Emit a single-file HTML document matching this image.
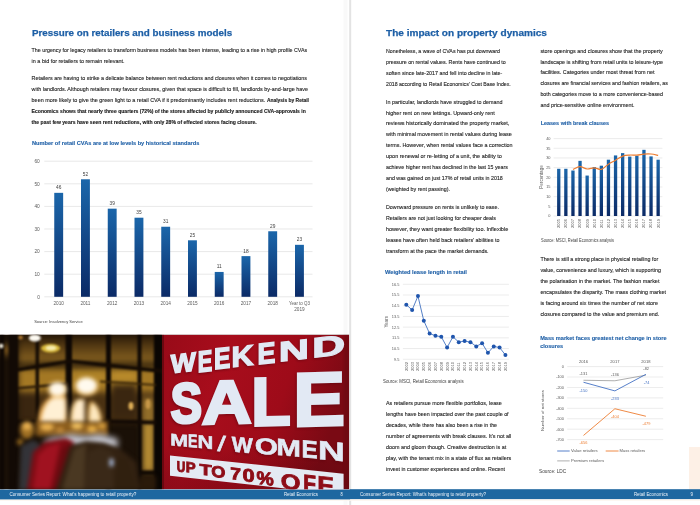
<!DOCTYPE html>
<html><head><meta charset="utf-8"><title>Consumer Series Report</title>
<style>
html,body{margin:0;padding:0;background:#fff;}
body{width:700px;height:505px;overflow:hidden;}
svg{display:block;}
text{font-family:"Liberation Sans",Arial,sans-serif;}
</style></head><body>
<svg width="700" height="505" viewBox="0 0 700 505">
<rect width="700" height="505" fill="#fff"/>
<rect x="343.5" y="0" width="4" height="505" fill="#f9f9f9"/>
<rect x="349.2" y="0" width="2" height="505" fill="#e3e3e3"/>
<rect x="689" y="447" width="11" height="42.5" fill="#fdf0e6"/>
<rect x="0" y="499.2" width="700" height="1.6" fill="#fdf6ee"/>
<defs><linearGradient id="bg1" x1="0" y1="0" x2="0" y2="1" gradientUnits="objectBoundingBox"><stop offset="0" stop-color="#1b66aa"/><stop offset="1" stop-color="#0b2a66"/></linearGradient><linearGradient id="bg3" x1="0" y1="0" x2="0" y2="1"><stop offset="0" stop-color="#1b66aa"/><stop offset="1" stop-color="#0b2a66"/></linearGradient></defs>
<line x1="44.3" y1="296.80" x2="312.5" y2="296.80" stroke="#d9d9d9" stroke-width="0.6"/>
<line x1="44.3" y1="274.20" x2="312.5" y2="274.20" stroke="#d9d9d9" stroke-width="0.6"/>
<line x1="44.3" y1="251.60" x2="312.5" y2="251.60" stroke="#d9d9d9" stroke-width="0.6"/>
<line x1="44.3" y1="229.00" x2="312.5" y2="229.00" stroke="#d9d9d9" stroke-width="0.6"/>
<line x1="44.3" y1="206.40" x2="312.5" y2="206.40" stroke="#d9d9d9" stroke-width="0.6"/>
<line x1="44.3" y1="183.80" x2="312.5" y2="183.80" stroke="#d9d9d9" stroke-width="0.6"/>
<line x1="44.3" y1="161.20" x2="312.5" y2="161.20" stroke="#d9d9d9" stroke-width="0.6"/>
<rect x="54.25" y="192.84" width="8.9" height="103.96" fill="url(#bg3)"/>
<rect x="81.00" y="179.28" width="8.9" height="117.52" fill="url(#bg3)"/>
<rect x="107.75" y="208.66" width="8.9" height="88.14" fill="url(#bg3)"/>
<rect x="134.50" y="217.70" width="8.9" height="79.10" fill="url(#bg3)"/>
<rect x="161.25" y="226.74" width="8.9" height="70.06" fill="url(#bg3)"/>
<rect x="188.00" y="240.30" width="8.9" height="56.50" fill="url(#bg3)"/>
<rect x="214.75" y="271.94" width="8.9" height="24.86" fill="url(#bg3)"/>
<rect x="241.50" y="256.12" width="8.9" height="40.68" fill="url(#bg3)"/>
<rect x="268.25" y="231.26" width="8.9" height="65.54" fill="url(#bg3)"/>
<rect x="295.00" y="244.82" width="8.9" height="51.98" fill="url(#bg3)"/>
<line x1="402.9" y1="284.30" x2="508.9" y2="284.30" stroke="#d9d9d9" stroke-width="0.5"/>
<line x1="402.9" y1="295.01" x2="508.9" y2="295.01" stroke="#d9d9d9" stroke-width="0.5"/>
<line x1="402.9" y1="305.72" x2="508.9" y2="305.72" stroke="#d9d9d9" stroke-width="0.5"/>
<line x1="402.9" y1="316.43" x2="508.9" y2="316.43" stroke="#d9d9d9" stroke-width="0.5"/>
<line x1="402.9" y1="327.14" x2="508.9" y2="327.14" stroke="#d9d9d9" stroke-width="0.5"/>
<line x1="402.9" y1="337.85" x2="508.9" y2="337.85" stroke="#d9d9d9" stroke-width="0.5"/>
<line x1="402.9" y1="348.56" x2="508.9" y2="348.56" stroke="#d9d9d9" stroke-width="0.5"/>
<line x1="402.9" y1="359.27" x2="508.9" y2="359.27" stroke="#d9d9d9" stroke-width="0.5"/>
<line x1="553.6" y1="216.00" x2="662.4" y2="216.00" stroke="#d9d9d9" stroke-width="0.5"/>
<line x1="553.6" y1="206.32" x2="662.4" y2="206.32" stroke="#d9d9d9" stroke-width="0.5"/>
<line x1="553.6" y1="196.65" x2="662.4" y2="196.65" stroke="#d9d9d9" stroke-width="0.5"/>
<line x1="553.6" y1="186.97" x2="662.4" y2="186.97" stroke="#d9d9d9" stroke-width="0.5"/>
<line x1="553.6" y1="177.30" x2="662.4" y2="177.30" stroke="#d9d9d9" stroke-width="0.5"/>
<line x1="553.6" y1="167.62" x2="662.4" y2="167.62" stroke="#d9d9d9" stroke-width="0.5"/>
<line x1="553.6" y1="157.95" x2="662.4" y2="157.95" stroke="#d9d9d9" stroke-width="0.5"/>
<line x1="553.6" y1="148.27" x2="662.4" y2="148.27" stroke="#d9d9d9" stroke-width="0.5"/>
<line x1="553.6" y1="138.60" x2="662.4" y2="138.60" stroke="#d9d9d9" stroke-width="0.5"/>
<rect x="557.10" y="168.79" width="3.3" height="47.21" fill="url(#bg3)"/>
<rect x="564.20" y="168.79" width="3.3" height="47.21" fill="url(#bg3)"/>
<rect x="571.30" y="170.53" width="3.3" height="45.47" fill="url(#bg3)"/>
<rect x="578.40" y="160.85" width="3.3" height="55.15" fill="url(#bg3)"/>
<rect x="585.50" y="175.56" width="3.3" height="40.44" fill="url(#bg3)"/>
<rect x="592.60" y="167.04" width="3.3" height="48.96" fill="url(#bg3)"/>
<rect x="599.70" y="165.69" width="3.3" height="50.31" fill="url(#bg3)"/>
<rect x="606.80" y="159.69" width="3.3" height="56.31" fill="url(#bg3)"/>
<rect x="613.90" y="155.43" width="3.3" height="60.57" fill="url(#bg3)"/>
<rect x="621.00" y="153.11" width="3.3" height="62.89" fill="url(#bg3)"/>
<rect x="628.10" y="156.60" width="3.3" height="59.40" fill="url(#bg3)"/>
<rect x="635.20" y="155.82" width="3.3" height="60.18" fill="url(#bg3)"/>
<rect x="642.30" y="149.82" width="3.3" height="66.18" fill="url(#bg3)"/>
<rect x="649.40" y="156.40" width="3.3" height="59.60" fill="url(#bg3)"/>
<rect x="656.50" y="159.69" width="3.3" height="56.31" fill="url(#bg3)"/>
<line x1="567.2" y1="366.60" x2="663.2" y2="366.60" stroke="#d9d9d9" stroke-width="0.5"/>
<line x1="567.2" y1="377.03" x2="663.2" y2="377.03" stroke="#d9d9d9" stroke-width="0.5"/>
<line x1="567.2" y1="387.46" x2="663.2" y2="387.46" stroke="#d9d9d9" stroke-width="0.5"/>
<line x1="567.2" y1="397.89" x2="663.2" y2="397.89" stroke="#d9d9d9" stroke-width="0.5"/>
<line x1="567.2" y1="408.32" x2="663.2" y2="408.32" stroke="#d9d9d9" stroke-width="0.5"/>
<line x1="567.2" y1="418.75" x2="663.2" y2="418.75" stroke="#d9d9d9" stroke-width="0.5"/>
<line x1="567.2" y1="429.18" x2="663.2" y2="429.18" stroke="#d9d9d9" stroke-width="0.5"/>
<line x1="567.2" y1="439.61" x2="663.2" y2="439.61" stroke="#d9d9d9" stroke-width="0.5"/>
<rect x="0" y="489.5" width="350" height="9.9" fill="#1e67a0"/>
<rect x="350" y="489.2" width="350" height="9.9" fill="#1e67a0"/>
<defs>
<filter id="blur1" x="-20%" y="-20%" width="140%" height="140%" color-interpolation-filters="sRGB"><feGaussianBlur stdDeviation="0.8"/></filter>
<filter id="blur2" x="-30%" y="-30%" width="160%" height="160%" color-interpolation-filters="sRGB"><feGaussianBlur stdDeviation="1.9"/></filter>
<filter id="blur3" x="-30%" y="-30%" width="160%" height="160%" color-interpolation-filters="sRGB"><feGaussianBlur stdDeviation="3.0"/></filter>
<clipPath id="clipL"><rect x="0" y="334.7" width="162" height="154.6"/></clipPath>
<clipPath id="clipS"><rect x="162" y="334.7" width="187.2" height="154.6"/></clipPath>
<linearGradient id="redg" x1="0" y1="0" x2="1" y2="0.3">
 <stop offset="0" stop-color="#980a18"/><stop offset="0.35" stop-color="#a80d1c"/><stop offset="0.7" stop-color="#9e0b19"/><stop offset="1" stop-color="#7a0a14"/>
</linearGradient>
<linearGradient id="paneU" x1="0" y1="0" x2="0" y2="1">
 <stop offset="0" stop-color="#2a1a08"/><stop offset="0.45" stop-color="#5a3e14"/><stop offset="1" stop-color="#8c6622"/>
</linearGradient>
<linearGradient id="redv" x1="0" y1="0" x2="0" y2="1">
 <stop offset="0" stop-color="#000" stop-opacity="0"/><stop offset="0.7" stop-color="#000" stop-opacity="0"/><stop offset="1" stop-color="#300008" stop-opacity="0.2"/>
</linearGradient>
</defs>
<rect x="0" y="334.2" width="349.2" height="0.7" fill="#c8c0c0"/>
<g clip-path="url(#clipL)">
 <rect x="0" y="334.7" width="162" height="154.6" fill="#1a1007"/>
 <g filter="url(#blur3)">
  <rect x="18" y="335" width="140" height="28" fill="url(#paneU)"/>
  <rect x="18" y="368" width="140" height="28" fill="#a47824"/>
  <rect x="111" y="370" width="26" height="22" fill="#b88a2a"/>
  <rect x="74" y="370" width="32" height="14" fill="#b08428"/>
  <rect x="18" y="392" width="140" height="30" fill="#4a3112"/>
  <rect x="111" y="384" width="26" height="34" fill="#3a2610"/>
  <rect x="142" y="398" width="13" height="76" fill="#94702a"/>
  <rect x="143" y="424" width="11" height="46" fill="#b88e34"/>
  <rect x="18" y="392" width="20" height="30" fill="#3a2610"/>
  <ellipse cx="6" cy="350" rx="4" ry="6" fill="#8a6020"/>
 </g>
 <g filter="url(#blur1)">
  <rect x="0" y="334" width="4" height="156" fill="#0e0804"/>
  <rect x="9" y="334" width="9" height="156" fill="#120a05"/>
  <rect x="35.5" y="334" width="3.5" height="88" fill="#140c05"/>
  <rect x="65.5" y="334" width="6.5" height="100" fill="#0e0804"/>
  <rect x="106" y="334" width="5" height="156" fill="#0e0804"/>
  <rect x="137.5" y="334" width="4" height="156" fill="#0e0804"/>
  <rect x="154" y="334" width="8.5" height="156" fill="#0a0603"/>
  <polygon points="18,367.5 70,359.5 162,369 162,373 70,363 18,371.5" fill="#140b04"/>
  <polygon points="18,387 68,382.5 68,385 18,389.5" fill="#2a1a08"/>
  <polygon points="100,380.5 156,384 156,386 100,382.5" fill="#3a2608"/>
  <polygon points="18,420 104,419.5 156,420.5 156,424.5 104,423.5 18,423.5" fill="#140b05"/>
  <rect x="141" y="470.5" width="14" height="5" fill="#120a04"/>
  <ellipse cx="131" cy="406" rx="2.5" ry="4" fill="#e0b058"/>
  <ellipse cx="148" cy="404" rx="2.5" ry="5" fill="#c89848"/>
 </g>
 <g filter="url(#blur1)">
  <ellipse cx="34.8" cy="338" rx="6" ry="3.6" fill="#fdfaf2"/>
  <ellipse cx="1.2" cy="346" rx="2.2" ry="2.2" fill="#f4efe0"/>
  <ellipse cx="20.6" cy="337.5" rx="2.3" ry="2" fill="#b07830"/>
  <ellipse cx="50.6" cy="348.2" rx="9.5" ry="4.2" fill="#d8b838"/>
  <ellipse cx="51" cy="348" rx="5.5" ry="2.4" fill="#f6ecb0"/>
 </g>
 <g filter="url(#blur2)">
  <rect x="36" y="421" width="72" height="15" fill="#8a5c1c"/>
  <ellipse cx="47" cy="427" rx="7" ry="4" fill="#e8b050"/>
  <ellipse cx="60" cy="430" rx="4" ry="3" fill="#c08838"/>
  <ellipse cx="77" cy="426" rx="6" ry="3.5" fill="#f0c060"/>
  <ellipse cx="92" cy="429" rx="5" ry="3.5" fill="#e8b048"/>
  <ellipse cx="102" cy="426" rx="4" ry="3" fill="#d8a040"/>
  <ellipse cx="27" cy="430" rx="7" ry="9" fill="#a07024"/>
  <ellipse cx="27" cy="426" rx="5" ry="4" fill="#e8b050"/>
  <ellipse cx="20" cy="442" rx="3" ry="3" fill="#a07020"/>
 </g>
 <g filter="url(#blur2)">
  <path d="M38,422 C38,410 44,400 52,396 L66,396 C67,404 67,414 67,422 Z" fill="#e8a444"/>
  <path d="M41,421 C42,410 47,401 53,398 L65,398 C66,406 66,413 65,421 Z" fill="#fff0d4"/>
  <ellipse cx="57.5" cy="389.5" rx="9.5" ry="8" fill="#eec47c"/>
  <ellipse cx="57.5" cy="389" rx="8" ry="6.6" fill="#fff8ea"/>
  <ellipse cx="86.5" cy="386.5" rx="11.5" ry="9.5" fill="#eebe6c"/>
  <ellipse cx="86.5" cy="385.5" rx="10" ry="7.8" fill="#fffaee"/>
  <path d="M70,422 C70,410 73,401 78,399 L86,399 C88,408 89,416 88,422 Z" fill="#f0c068"/>
  <path d="M72,421 C72,410 75,402 78,400 L86,400 C87,408 87,414 87,421 Z" fill="#ffeccc"/>
  <path d="M88,422 C88,412 88,404 91,401 C97,403 102,412 102,422 Z" fill="#eeb85c"/>
  <path d="M89.5,421 C89.5,411 90.5,405 92.5,403 C97,406 100,413 100,421 Z" fill="#fde8c0"/>
  <rect x="84.5" y="397" width="3.5" height="25" fill="#4a3010"/>
 </g>
 <g filter="url(#blur3)">
  <path d="M60,437 L70,434 L85,436 L100,434 L118,439 L117,449 L100,446 L80,447 L62,446 Z" fill="#c8c8d0"/>
  <path d="M44,440 L56,436 L64,438 L60,445 L46,446 Z" fill="#b0a8b0"/>
 </g>
 <g filter="url(#blur2)">
  <path d="M21,446 L33,440 L40,444 L36,490 L19,490 Z" fill="#333338"/>
  <path d="M27,490 L33,452 L45,442 L66,438 L74,442 L56,490 Z" fill="#7e0c14"/>
  <path d="M33,490 L38,455 L48,446 L60,443 L50,490 Z" fill="#a01220"/>
  <path d="M52,490 L62,448 L72,442 L60,490 Z" fill="#6a0a10"/>
  <path d="M56,490 L70,446 L86,441 L104,443 L120,449 L136,462 L140,490 Z" fill="#332212"/>
  <path d="M62,490 L74,449 L86,444 L84,490 Z" fill="#4a3822"/>
  <path d="M84,490 L88,452 L100,447 L112,452 L114,490 Z" fill="#3a2918"/>
  <path d="M114,490 L118,456 L128,460 L138,490 Z" fill="#30200f"/>
  <rect x="109.5" y="458.5" width="4" height="8" rx="1.5" fill="#b0c4e8"/>
  <rect x="140" y="476" width="16" height="14" fill="#2a1a0a"/>
 </g>
</g>
<g clip-path="url(#clipS)">
 <rect x="162" y="334.7" width="187.2" height="154.6" fill="url(#redg)"/>
 <rect x="162" y="334.7" width="187.2" height="154.6" fill="url(#redv)"/>
 <rect x="344" y="334.7" width="5.2" height="154.6" fill="#6a0a12" opacity="0.6" filter="url(#blur1)"/>
 <rect x="162" y="334.7" width="2" height="154.6" fill="#6a0810"/>
<g opacity="0.55" filter="url(#blur1)"><text x="0" y="0" font-size="100" font-weight="bold" fill="#5a0610" stroke="#5a0610" stroke-width="5.3" stroke-linejoin="miter" transform="translate(182.40 364.00) skewY(-6.50) scale(0.2653 0.2617) translate(-47.19 34.40)">W</text><text x="0" y="0" font-size="100" font-weight="bold" fill="#5a0610" stroke="#5a0610" stroke-width="5.5" stroke-linejoin="miter" transform="translate(204.50 362.30) skewY(-6.50) scale(0.2175 0.2971) translate(-34.74 34.40)">E</text><text x="0" y="0" font-size="100" font-weight="bold" fill="#5a0610" stroke="#5a0610" stroke-width="5.2" stroke-linejoin="miter" transform="translate(221.70 359.40) skewY(-6.50) scale(0.2447 0.2958) translate(-34.74 34.40)">E</text><text x="0" y="0" font-size="100" font-weight="bold" fill="#5a0610" stroke="#5a0610" stroke-width="4.7" stroke-linejoin="miter" transform="translate(242.65 357.30) skewY(-6.50) scale(0.3044 0.2883) translate(-38.99 34.40)">K</text><text x="0" y="0" font-size="100" font-weight="bold" fill="#5a0610" stroke="#5a0610" stroke-width="5.0" stroke-linejoin="miter" transform="translate(266.00 354.55) skewY(-6.50) scale(0.2685 0.2960) translate(-34.74 34.40)">E</text><text x="0" y="0" font-size="100" font-weight="bold" fill="#5a0610" stroke="#5a0610" stroke-width="4.1" stroke-linejoin="miter" transform="translate(293.05 351.50) skewY(-6.50) scale(0.4183 0.2799) translate(-36.08 34.40)">N</text><text x="0" y="0" font-size="100" font-weight="bold" fill="#5a0610" stroke="#5a0610" stroke-width="3.9" stroke-linejoin="miter" transform="translate(328.50 347.35) skewY(-6.50) scale(0.4599 0.2790) translate(-37.35 34.40)">D</text><text x="0" y="0" font-size="100" font-weight="bold" fill="#5a0610" stroke="#5a0610" stroke-width="5.9" stroke-linejoin="miter" transform="translate(185.25 404.40) skewY(-1.50) scale(0.4666 0.5581) translate(-32.84 34.42)">S</text><text x="0" y="0" font-size="100" font-weight="bold" fill="#5a0610" stroke="#5a0610" stroke-width="4.6" stroke-linejoin="miter" transform="translate(225.90 403.60) skewY(-1.50) scale(0.6889 0.6116) translate(-36.04 34.40)">A</text><text x="0" y="0" font-size="100" font-weight="bold" fill="#5a0610" stroke="#5a0610" stroke-width="4.6" stroke-linejoin="miter" transform="translate(271.35 402.90) skewY(-1.50) scale(0.6389 0.6770) translate(-32.35 34.40)">L</text><text x="0" y="0" font-size="100" font-weight="bold" fill="#5a0610" stroke="#5a0610" stroke-width="3.9" stroke-linejoin="miter" transform="translate(319.50 400.65) skewY(-1.50) scale(0.7764 0.7547) translate(-34.74 34.40)">E</text><text x="0" y="0" font-size="100" font-weight="bold" fill="#5a0610" stroke="#5a0610" stroke-width="3.2" stroke-linejoin="miter" transform="translate(178.45 441.55) skewY(5.00) scale(0.2148 0.1685) translate(-41.65 34.40)">M</text><text x="0" y="0" font-size="100" font-weight="bold" fill="#5a0610" stroke="#5a0610" stroke-width="3.7" stroke-linejoin="miter" transform="translate(192.05 442.10) skewY(5.00) scale(0.1421 0.1828) translate(-34.74 34.40)">E</text><text x="0" y="0" font-size="100" font-weight="bold" fill="#5a0610" stroke="#5a0610" stroke-width="3.0" stroke-linejoin="miter" transform="translate(204.55 443.35) skewY(5.00) scale(0.2185 0.1827) translate(-36.08 34.40)">N</text><text x="0" y="0" font-size="100" font-weight="normal" fill="#5a0610" stroke="#5a0610" stroke-width="2.3" stroke-linejoin="miter" transform="translate(220.90 444.70) skewY(5.00) scale(0.3122 0.2135) translate(-13.89 35.74)">/</text><text x="0" y="0" font-size="100" font-weight="bold" fill="#5a0610" stroke="#5a0610" stroke-width="2.8" stroke-linejoin="miter" transform="translate(241.35 446.20) skewY(5.00) scale(0.2218 0.2141) translate(-47.19 34.40)">W</text><text x="0" y="0" font-size="100" font-weight="bold" fill="#5a0610" stroke="#5a0610" stroke-width="2.3" stroke-linejoin="miter" transform="translate(265.60 447.60) skewY(5.00) scale(0.2981 0.2288) translate(-38.84 34.42)">O</text><text x="0" y="0" font-size="100" font-weight="bold" fill="#5a0610" stroke="#5a0610" stroke-width="2.3" stroke-linejoin="miter" transform="translate(287.80 449.05) skewY(5.00) scale(0.2964 0.2339) translate(-41.65 34.40)">M</text><text x="0" y="0" font-size="100" font-weight="bold" fill="#5a0610" stroke="#5a0610" stroke-width="2.5" stroke-linejoin="miter" transform="translate(309.20 450.50) skewY(5.00) scale(0.2424 0.2436) translate(-34.74 34.40)">E</text><text x="0" y="0" font-size="100" font-weight="bold" fill="#5a0610" stroke="#5a0610" stroke-width="1.9" stroke-linejoin="miter" transform="translate(330.65 452.25) skewY(5.00) scale(0.3773 0.2645) translate(-36.08 34.40)">N</text></g>
<g>
<text x="0" y="0" font-size="100" font-weight="bold" fill="#e2e9f4" stroke="#e2e9f4" stroke-width="5.3" stroke-linejoin="miter" transform="translate(183.20 362.80) skewY(-6.50) scale(0.2653 0.2617) translate(-47.19 34.40)">W</text>
<text x="0" y="0" font-size="100" font-weight="bold" fill="#e2e9f4" stroke="#e2e9f4" stroke-width="5.5" stroke-linejoin="miter" transform="translate(205.30 361.10) skewY(-6.50) scale(0.2175 0.2971) translate(-34.74 34.40)">E</text>
<text x="0" y="0" font-size="100" font-weight="bold" fill="#e2e9f4" stroke="#e2e9f4" stroke-width="5.2" stroke-linejoin="miter" transform="translate(222.50 358.20) skewY(-6.50) scale(0.2447 0.2958) translate(-34.74 34.40)">E</text>
<text x="0" y="0" font-size="100" font-weight="bold" fill="#e2e9f4" stroke="#e2e9f4" stroke-width="4.7" stroke-linejoin="miter" transform="translate(243.45 356.10) skewY(-6.50) scale(0.3044 0.2883) translate(-38.99 34.40)">K</text>
<text x="0" y="0" font-size="100" font-weight="bold" fill="#e2e9f4" stroke="#e2e9f4" stroke-width="5.0" stroke-linejoin="miter" transform="translate(266.80 353.35) skewY(-6.50) scale(0.2685 0.2960) translate(-34.74 34.40)">E</text>
<text x="0" y="0" font-size="100" font-weight="bold" fill="#e2e9f4" stroke="#e2e9f4" stroke-width="4.1" stroke-linejoin="miter" transform="translate(293.85 350.30) skewY(-6.50) scale(0.4183 0.2799) translate(-36.08 34.40)">N</text>
<text x="0" y="0" font-size="100" font-weight="bold" fill="#e2e9f4" stroke="#e2e9f4" stroke-width="3.9" stroke-linejoin="miter" transform="translate(329.30 346.15) skewY(-6.50) scale(0.4599 0.2790) translate(-37.35 34.40)">D</text>
<text x="0" y="0" font-size="100" font-weight="bold" fill="#e2e9f4" stroke="#e2e9f4" stroke-width="5.9" stroke-linejoin="miter" transform="translate(186.05 403.20) skewY(-1.50) scale(0.4666 0.5581) translate(-32.84 34.42)">S</text>
<text x="0" y="0" font-size="100" font-weight="bold" fill="#e2e9f4" stroke="#e2e9f4" stroke-width="4.6" stroke-linejoin="miter" transform="translate(226.70 402.40) skewY(-1.50) scale(0.6889 0.6116) translate(-36.04 34.40)">A</text>
<text x="0" y="0" font-size="100" font-weight="bold" fill="#e2e9f4" stroke="#e2e9f4" stroke-width="4.6" stroke-linejoin="miter" transform="translate(272.15 401.70) skewY(-1.50) scale(0.6389 0.6770) translate(-32.35 34.40)">L</text>
<text x="0" y="0" font-size="100" font-weight="bold" fill="#e2e9f4" stroke="#e2e9f4" stroke-width="3.9" stroke-linejoin="miter" transform="translate(320.30 399.45) skewY(-1.50) scale(0.7764 0.7547) translate(-34.74 34.40)">E</text>
<text x="0" y="0" font-size="100" font-weight="bold" fill="#e2e9f4" stroke="#e2e9f4" stroke-width="3.2" stroke-linejoin="miter" transform="translate(179.25 440.35) skewY(5.00) scale(0.2148 0.1685) translate(-41.65 34.40)">M</text>
<text x="0" y="0" font-size="100" font-weight="bold" fill="#e2e9f4" stroke="#e2e9f4" stroke-width="3.7" stroke-linejoin="miter" transform="translate(192.85 440.90) skewY(5.00) scale(0.1421 0.1828) translate(-34.74 34.40)">E</text>
<text x="0" y="0" font-size="100" font-weight="bold" fill="#e2e9f4" stroke="#e2e9f4" stroke-width="3.0" stroke-linejoin="miter" transform="translate(205.35 442.15) skewY(5.00) scale(0.2185 0.1827) translate(-36.08 34.40)">N</text>
<text x="0" y="0" font-size="100" font-weight="normal" fill="#e2e9f4" stroke="#e2e9f4" stroke-width="2.3" stroke-linejoin="miter" transform="translate(221.70 443.50) skewY(5.00) scale(0.3122 0.2135) translate(-13.89 35.74)">/</text>
<text x="0" y="0" font-size="100" font-weight="bold" fill="#e2e9f4" stroke="#e2e9f4" stroke-width="2.8" stroke-linejoin="miter" transform="translate(242.15 445.00) skewY(5.00) scale(0.2218 0.2141) translate(-47.19 34.40)">W</text>
<text x="0" y="0" font-size="100" font-weight="bold" fill="#e2e9f4" stroke="#e2e9f4" stroke-width="2.3" stroke-linejoin="miter" transform="translate(266.40 446.40) skewY(5.00) scale(0.2981 0.2288) translate(-38.84 34.42)">O</text>
<text x="0" y="0" font-size="100" font-weight="bold" fill="#e2e9f4" stroke="#e2e9f4" stroke-width="2.3" stroke-linejoin="miter" transform="translate(288.60 447.85) skewY(5.00) scale(0.2964 0.2339) translate(-41.65 34.40)">M</text>
<text x="0" y="0" font-size="100" font-weight="bold" fill="#e2e9f4" stroke="#e2e9f4" stroke-width="2.5" stroke-linejoin="miter" transform="translate(310.00 449.30) skewY(5.00) scale(0.2424 0.2436) translate(-34.74 34.40)">E</text>
<text x="0" y="0" font-size="100" font-weight="bold" fill="#e2e9f4" stroke="#e2e9f4" stroke-width="1.9" stroke-linejoin="miter" transform="translate(331.45 451.05) skewY(5.00) scale(0.3773 0.2645) translate(-36.08 34.40)">N</text>
</g>
<polygon points="170,455.4 343.6,473.8 343.6,495 170,475.7" fill="#e4eaf3"/>
<g>
<text x="0" y="0" font-size="100" font-weight="bold" fill="#8e0d17" stroke="#8e0d17" stroke-width="6.8" stroke-linejoin="miter" transform="translate(181.05 466.80) skewY(6.50) scale(0.1180 0.1475) translate(-36.06 33.91)">U</text>
<text x="0" y="0" font-size="100" font-weight="bold" fill="#8e0d17" stroke="#8e0d17" stroke-width="6.1" stroke-linejoin="miter" transform="translate(191.05 467.50) skewY(6.50) scale(0.1485 0.1488) translate(-34.99 34.40)">P</text>
<text x="0" y="0" font-size="100" font-weight="bold" fill="#8e0d17" stroke="#8e0d17" stroke-width="5.1" stroke-linejoin="miter" transform="translate(205.70 470.00) skewY(6.50) scale(0.1999 0.1534) translate(-30.57 34.40)">T</text>
<text x="0" y="0" font-size="100" font-weight="bold" fill="#8e0d17" stroke="#8e0d17" stroke-width="5.3" stroke-linejoin="miter" transform="translate(218.20 471.80) skewY(6.50) scale(0.1819 0.1583) translate(-38.84 34.42)">O</text>
<text x="0" y="0" font-size="100" font-weight="bold" fill="#8e0d17" stroke="#8e0d17" stroke-width="5.0" stroke-linejoin="miter" transform="translate(235.70 473.90) skewY(6.50) scale(0.1926 0.1689) translate(-27.76 34.40)">7</text>
<text x="0" y="0" font-size="100" font-weight="bold" fill="#8e0d17" stroke="#8e0d17" stroke-width="4.5" stroke-linejoin="miter" transform="translate(248.60 475.40) skewY(6.50) scale(0.2189 0.1819) translate(-27.73 34.42)">0</text>
<text x="0" y="0" font-size="100" font-weight="bold" fill="#8e0d17" stroke="#8e0d17" stroke-width="4.8" stroke-linejoin="miter" transform="translate(265.00 478.55) skewY(6.50) scale(0.1942 0.1829) translate(-44.38 34.40)">%</text>
<text x="0" y="0" font-size="100" font-weight="bold" fill="#8e0d17" stroke="#8e0d17" stroke-width="3.9" stroke-linejoin="miter" transform="translate(290.70 481.95) skewY(6.50) scale(0.2536 0.2140) translate(-38.84 34.42)">O</text>
<text x="0" y="0" font-size="100" font-weight="bold" fill="#8e0d17" stroke="#8e0d17" stroke-width="4.1" stroke-linejoin="miter" transform="translate(310.00 483.40) skewY(6.50) scale(0.2079 0.2318) translate(-32.06 34.40)">F</text>
<text x="0" y="0" font-size="100" font-weight="bold" fill="#8e0d17" stroke="#8e0d17" stroke-width="3.7" stroke-linejoin="miter" transform="translate(325.75 484.85) skewY(6.50) scale(0.2629 0.2301) translate(-32.06 34.40)">F</text>
</g>
</g>

<text x="32.00" y="35.90" font-size="9.6" fill="#1d5fa6" font-weight="bold" textLength="200.10" lengthAdjust="spacingAndGlyphs" stroke="#1d5fa6" stroke-width="0.25">Pressure on retailers and business models</text>
<text x="31.60" y="51.70" font-size="6.0" fill="#1e1e1e" textLength="275.60" lengthAdjust="spacingAndGlyphs" stroke="#1e1e1e" stroke-width="0.12">The urgency for legacy retailers to transform business models has been intense, leading to a rise in high profile CVAs</text>
<text x="31.60" y="62.60" font-size="6.0" fill="#1e1e1e" textLength="93.00" lengthAdjust="spacingAndGlyphs" stroke="#1e1e1e" stroke-width="0.12">in a bid for retailers to remain relevant.</text>
<text x="31.60" y="80.30" font-size="6.0" fill="#1e1e1e" textLength="275.40" lengthAdjust="spacingAndGlyphs" stroke="#1e1e1e" stroke-width="0.12">Retailers are having to strike a delicate balance between rent reductions and closures when it comes to negotiations</text>
<text x="31.60" y="91.20" font-size="6.0" fill="#1e1e1e" textLength="276.30" lengthAdjust="spacingAndGlyphs" stroke="#1e1e1e" stroke-width="0.12">with landlords. Although retailers may favour closures, given that space is difficult to fill, landlords by-and-large have</text>
<text x="31.60" y="102.10" font-size="6.0" fill="#1e1e1e" textLength="233.70" lengthAdjust="spacingAndGlyphs" stroke="#1e1e1e" stroke-width="0.12">been more likely to give the green light to a retail CVA if it predominantly includes rent reductions.</text>
<text x="266.90" y="102.10" font-size="6.0" fill="#1a1a1a" font-weight="bold" textLength="42.10" lengthAdjust="spacingAndGlyphs" stroke="#1a1a1a" stroke-width="0.14">Analysis by Retail</text>
<text x="31.60" y="113.00" font-size="6.0" fill="#1a1a1a" font-weight="bold" textLength="274.20" lengthAdjust="spacingAndGlyphs" stroke="#1a1a1a" stroke-width="0.14">Economics shows that nearly three quarters (72%) of the stores affected by publicly announced CVA-approvals in</text>
<text x="31.60" y="123.90" font-size="6.0" fill="#1a1a1a" font-weight="bold" textLength="225.10" lengthAdjust="spacingAndGlyphs" stroke="#1a1a1a" stroke-width="0.14">the past few years have seen rent reductions, with only 28% of effected stores facing closure.</text>
<text x="32.00" y="144.70" font-size="6.0" fill="#2262a8" font-weight="bold" textLength="167.30" lengthAdjust="spacingAndGlyphs" stroke="#2262a8" stroke-width="0.12">Number of retail CVAs are at low levels by historical standards</text>
<text x="386.00" y="36.20" font-size="9.6" fill="#1d5fa6" font-weight="bold" textLength="160.90" lengthAdjust="spacingAndGlyphs" stroke="#1d5fa6" stroke-width="0.25">The impact on property dynamics</text>
<text x="386.00" y="52.60" font-size="6.0" fill="#1e1e1e" textLength="113.90" lengthAdjust="spacingAndGlyphs" stroke="#1e1e1e" stroke-width="0.12">Nonetheless, a wave of CVAs has put downward</text>
<text x="386.00" y="63.60" font-size="6.0" fill="#1e1e1e" textLength="119.80" lengthAdjust="spacingAndGlyphs" stroke="#1e1e1e" stroke-width="0.12">pressure on rental values. Rents have continued to</text>
<text x="386.00" y="74.70" font-size="6.0" fill="#1e1e1e" textLength="116.30" lengthAdjust="spacingAndGlyphs" stroke="#1e1e1e" stroke-width="0.12">soften since late-2017 and fell into decline in late-</text>
<text x="386.00" y="85.70" font-size="6.0" fill="#1e1e1e" textLength="124.70" lengthAdjust="spacingAndGlyphs" stroke="#1e1e1e" stroke-width="0.12">2018 according to Retail Economics’ Cost Base Index.</text>
<text x="386.00" y="103.60" font-size="6.0" fill="#1e1e1e" textLength="116.60" lengthAdjust="spacingAndGlyphs" stroke="#1e1e1e" stroke-width="0.12">In particular, landlords have struggled to demand</text>
<text x="386.00" y="114.50" font-size="6.0" fill="#1e1e1e" textLength="108.80" lengthAdjust="spacingAndGlyphs" stroke="#1e1e1e" stroke-width="0.12">higher rent on new lettings. Upward-only rent</text>
<text x="386.00" y="125.40" font-size="6.0" fill="#1e1e1e" textLength="123.40" lengthAdjust="spacingAndGlyphs" stroke="#1e1e1e" stroke-width="0.12">reviews historically dominated the property market,</text>
<text x="386.00" y="136.30" font-size="6.0" fill="#1e1e1e" textLength="125.80" lengthAdjust="spacingAndGlyphs" stroke="#1e1e1e" stroke-width="0.12">with minimal movement in rental values during lease</text>
<text x="386.00" y="147.30" font-size="6.0" fill="#1e1e1e" textLength="126.60" lengthAdjust="spacingAndGlyphs" stroke="#1e1e1e" stroke-width="0.12">terms. However, when rental values face a correction</text>
<text x="386.00" y="158.30" font-size="6.0" fill="#1e1e1e" textLength="115.80" lengthAdjust="spacingAndGlyphs" stroke="#1e1e1e" stroke-width="0.12">upon renewal or re-letting of a unit, the ability to</text>
<text x="386.00" y="169.30" font-size="6.0" fill="#1e1e1e" textLength="121.80" lengthAdjust="spacingAndGlyphs" stroke="#1e1e1e" stroke-width="0.12">achieve higher rent has declined in the last 15 years</text>
<text x="386.00" y="180.30" font-size="6.0" fill="#1e1e1e" textLength="116.80" lengthAdjust="spacingAndGlyphs" stroke="#1e1e1e" stroke-width="0.12">and was gained on just 17% of retail units in 2018</text>
<text x="386.00" y="191.40" font-size="6.0" fill="#1e1e1e" textLength="64.00" lengthAdjust="spacingAndGlyphs" stroke="#1e1e1e" stroke-width="0.12">(weighted by rent passing).</text>
<text x="386.00" y="209.30" font-size="6.0" fill="#1e1e1e" textLength="112.90" lengthAdjust="spacingAndGlyphs" stroke="#1e1e1e" stroke-width="0.12">Downward pressure on rents is unlikely to ease.</text>
<text x="386.00" y="220.30" font-size="6.0" fill="#1e1e1e" textLength="109.90" lengthAdjust="spacingAndGlyphs" stroke="#1e1e1e" stroke-width="0.12">Retailers are not just looking for cheaper deals</text>
<text x="386.00" y="231.30" font-size="6.0" fill="#1e1e1e" textLength="122.20" lengthAdjust="spacingAndGlyphs" stroke="#1e1e1e" stroke-width="0.12">however, they want greater flexibility too. Inflexible</text>
<text x="386.00" y="242.30" font-size="6.0" fill="#1e1e1e" textLength="113.40" lengthAdjust="spacingAndGlyphs" stroke="#1e1e1e" stroke-width="0.12">leases have often held back retailers’ abilities to</text>
<text x="386.00" y="253.30" font-size="6.0" fill="#1e1e1e" textLength="102.60" lengthAdjust="spacingAndGlyphs" stroke="#1e1e1e" stroke-width="0.12">transform at the pace the market demands.</text>
<text x="386.00" y="404.50" font-size="6.0" fill="#1e1e1e" textLength="115.80" lengthAdjust="spacingAndGlyphs" stroke="#1e1e1e" stroke-width="0.12">As retailers pursue more flexible portfolios, lease</text>
<text x="386.00" y="415.50" font-size="6.0" fill="#1e1e1e" textLength="122.60" lengthAdjust="spacingAndGlyphs" stroke="#1e1e1e" stroke-width="0.12">lengths have been impacted over the past couple of</text>
<text x="386.00" y="426.50" font-size="6.0" fill="#1e1e1e" textLength="111.00" lengthAdjust="spacingAndGlyphs" stroke="#1e1e1e" stroke-width="0.12">decades, while there has also been a rise in the</text>
<text x="386.00" y="437.50" font-size="6.0" fill="#1e1e1e" textLength="125.30" lengthAdjust="spacingAndGlyphs" stroke="#1e1e1e" stroke-width="0.12">number of agreements with break clauses. It’s not all</text>
<text x="386.00" y="448.50" font-size="6.0" fill="#1e1e1e" textLength="120.20" lengthAdjust="spacingAndGlyphs" stroke="#1e1e1e" stroke-width="0.12">doom and gloom though. Creative destruction is at</text>
<text x="386.00" y="459.60" font-size="6.0" fill="#1e1e1e" textLength="125.30" lengthAdjust="spacingAndGlyphs" stroke="#1e1e1e" stroke-width="0.12">play, with the tenant mix in a state of flux as retailers</text>
<text x="386.00" y="470.60" font-size="6.0" fill="#1e1e1e" textLength="119.00" lengthAdjust="spacingAndGlyphs" stroke="#1e1e1e" stroke-width="0.12">invest in customer experiences and online. Recent</text>
<text x="385.00" y="273.90" font-size="6.0" fill="#2262a8" font-weight="bold" textLength="81.90" lengthAdjust="spacingAndGlyphs" stroke="#2262a8" stroke-width="0.12">Weighted lease length in retail</text>
<text x="540.40" y="52.60" font-size="6.0" fill="#1e1e1e" textLength="122.30" lengthAdjust="spacingAndGlyphs" stroke="#1e1e1e" stroke-width="0.12">store openings and closures show that the property</text>
<text x="540.40" y="63.50" font-size="6.0" fill="#1e1e1e" textLength="122.60" lengthAdjust="spacingAndGlyphs" stroke="#1e1e1e" stroke-width="0.12">landscape is shifting from retail units to leisure-type</text>
<text x="540.40" y="74.40" font-size="6.0" fill="#1e1e1e" textLength="114.10" lengthAdjust="spacingAndGlyphs" stroke="#1e1e1e" stroke-width="0.12">facilities. Categories under most threat from net</text>
<text x="540.40" y="85.40" font-size="6.0" fill="#1e1e1e" textLength="127.50" lengthAdjust="spacingAndGlyphs" stroke="#1e1e1e" stroke-width="0.12">closures are financial services and fashion retailers, as</text>
<text x="540.40" y="96.40" font-size="6.0" fill="#1e1e1e" textLength="122.60" lengthAdjust="spacingAndGlyphs" stroke="#1e1e1e" stroke-width="0.12">both categories move to a more convenience-based</text>
<text x="540.40" y="107.40" font-size="6.0" fill="#1e1e1e" textLength="94.10" lengthAdjust="spacingAndGlyphs" stroke="#1e1e1e" stroke-width="0.12">and price-sensitive online environment.</text>
<text x="540.40" y="261.00" font-size="6.0" fill="#1e1e1e" textLength="117.80" lengthAdjust="spacingAndGlyphs" stroke="#1e1e1e" stroke-width="0.12">There is still a strong place in physical retailing for</text>
<text x="540.40" y="271.90" font-size="6.0" fill="#1e1e1e" textLength="120.50" lengthAdjust="spacingAndGlyphs" stroke="#1e1e1e" stroke-width="0.12">value, convenience and luxury, which is supporting</text>
<text x="540.40" y="282.90" font-size="6.0" fill="#1e1e1e" textLength="119.00" lengthAdjust="spacingAndGlyphs" stroke="#1e1e1e" stroke-width="0.12">the polarisation in the market. The fashion market</text>
<text x="540.40" y="293.90" font-size="6.0" fill="#1e1e1e" textLength="125.50" lengthAdjust="spacingAndGlyphs" stroke="#1e1e1e" stroke-width="0.12">encapsulates the disparity. The mass clothing market</text>
<text x="540.40" y="304.90" font-size="6.0" fill="#1e1e1e" textLength="117.50" lengthAdjust="spacingAndGlyphs" stroke="#1e1e1e" stroke-width="0.12">is facing around six times the number of net store</text>
<text x="540.40" y="315.80" font-size="6.0" fill="#1e1e1e" textLength="118.90" lengthAdjust="spacingAndGlyphs" stroke="#1e1e1e" stroke-width="0.12">closures compared to the value and premium end.</text>
<text x="540.70" y="124.70" font-size="6.0" fill="#2262a8" font-weight="bold" textLength="68.30" lengthAdjust="spacingAndGlyphs" stroke="#2262a8" stroke-width="0.12">Leases with break clauses</text>
<text x="540.20" y="340.00" font-size="6.0" fill="#2262a8" font-weight="bold" textLength="126.40" lengthAdjust="spacingAndGlyphs" stroke="#2262a8" stroke-width="0.12">Mass market faces greatest net change in store</text>
<text x="540.20" y="348.00" font-size="6.0" fill="#2262a8" font-weight="bold" textLength="22.95" lengthAdjust="spacingAndGlyphs" stroke="#2262a8" stroke-width="0.12">closures</text>
<text x="39.80" y="298.60" font-size="5.0" fill="#595959" text-anchor="end" textLength="2.67" lengthAdjust="spacingAndGlyphs">0</text>
<text x="39.80" y="276.00" font-size="5.0" fill="#595959" text-anchor="end" textLength="5.34" lengthAdjust="spacingAndGlyphs">10</text>
<text x="39.80" y="253.40" font-size="5.0" fill="#595959" text-anchor="end" textLength="5.34" lengthAdjust="spacingAndGlyphs">20</text>
<text x="39.80" y="230.80" font-size="5.0" fill="#595959" text-anchor="end" textLength="5.34" lengthAdjust="spacingAndGlyphs">30</text>
<text x="39.80" y="208.20" font-size="5.0" fill="#595959" text-anchor="end" textLength="5.34" lengthAdjust="spacingAndGlyphs">40</text>
<text x="39.80" y="185.60" font-size="5.0" fill="#595959" text-anchor="end" textLength="5.34" lengthAdjust="spacingAndGlyphs">50</text>
<text x="39.80" y="163.00" font-size="5.0" fill="#595959" text-anchor="end" textLength="5.34" lengthAdjust="spacingAndGlyphs">60</text>
<text x="58.70" y="189.34" font-size="5.0" fill="#404040" text-anchor="middle" textLength="5.34" lengthAdjust="spacingAndGlyphs">46</text>
<text x="58.70" y="304.50" font-size="4.9" fill="#595959" text-anchor="middle" textLength="10.44" lengthAdjust="spacingAndGlyphs">2010</text>
<text x="85.45" y="175.78" font-size="5.0" fill="#404040" text-anchor="middle" textLength="5.34" lengthAdjust="spacingAndGlyphs">52</text>
<text x="85.45" y="304.50" font-size="4.9" fill="#595959" text-anchor="middle" textLength="10.10" lengthAdjust="spacingAndGlyphs">2011</text>
<text x="112.20" y="205.16" font-size="5.0" fill="#404040" text-anchor="middle" textLength="5.34" lengthAdjust="spacingAndGlyphs">39</text>
<text x="112.20" y="304.50" font-size="4.9" fill="#595959" text-anchor="middle" textLength="10.44" lengthAdjust="spacingAndGlyphs">2012</text>
<text x="138.95" y="214.20" font-size="5.0" fill="#404040" text-anchor="middle" textLength="5.34" lengthAdjust="spacingAndGlyphs">35</text>
<text x="138.95" y="304.50" font-size="4.9" fill="#595959" text-anchor="middle" textLength="10.44" lengthAdjust="spacingAndGlyphs">2013</text>
<text x="165.70" y="223.24" font-size="5.0" fill="#404040" text-anchor="middle" textLength="5.34" lengthAdjust="spacingAndGlyphs">31</text>
<text x="165.70" y="304.50" font-size="4.9" fill="#595959" text-anchor="middle" textLength="10.44" lengthAdjust="spacingAndGlyphs">2014</text>
<text x="192.45" y="236.80" font-size="5.0" fill="#404040" text-anchor="middle" textLength="5.34" lengthAdjust="spacingAndGlyphs">25</text>
<text x="192.45" y="304.50" font-size="4.9" fill="#595959" text-anchor="middle" textLength="10.44" lengthAdjust="spacingAndGlyphs">2015</text>
<text x="219.20" y="268.44" font-size="5.0" fill="#404040" text-anchor="middle" textLength="4.98" lengthAdjust="spacingAndGlyphs">11</text>
<text x="219.20" y="304.50" font-size="4.9" fill="#595959" text-anchor="middle" textLength="10.44" lengthAdjust="spacingAndGlyphs">2016</text>
<text x="245.95" y="252.62" font-size="5.0" fill="#404040" text-anchor="middle" textLength="5.34" lengthAdjust="spacingAndGlyphs">18</text>
<text x="245.95" y="304.50" font-size="4.9" fill="#595959" text-anchor="middle" textLength="10.44" lengthAdjust="spacingAndGlyphs">2017</text>
<text x="272.70" y="227.76" font-size="5.0" fill="#404040" text-anchor="middle" textLength="5.34" lengthAdjust="spacingAndGlyphs">29</text>
<text x="272.70" y="304.50" font-size="4.9" fill="#595959" text-anchor="middle" textLength="10.44" lengthAdjust="spacingAndGlyphs">2018</text>
<text x="299.45" y="241.32" font-size="5.0" fill="#404040" text-anchor="middle" textLength="5.34" lengthAdjust="spacingAndGlyphs">23</text>
<text x="299.45" y="304.50" font-size="4.9" fill="#595959" text-anchor="middle" textLength="20.88" lengthAdjust="spacingAndGlyphs">Year to Q3</text>
<text x="299.45" y="310.90" font-size="4.9" fill="#595959" text-anchor="middle" textLength="10.44" lengthAdjust="spacingAndGlyphs">2019</text>
<text x="34.20" y="322.80" font-size="3.9" fill="#404040" textLength="48.60" lengthAdjust="spacingAndGlyphs">Source: Insolvency Service</text>
<text x="399.40" y="285.70" font-size="4.0" fill="#595959" text-anchor="end" textLength="7.63" lengthAdjust="spacingAndGlyphs">16.5</text>
<text x="399.40" y="296.41" font-size="4.0" fill="#595959" text-anchor="end" textLength="7.63" lengthAdjust="spacingAndGlyphs">15.5</text>
<text x="399.40" y="307.12" font-size="4.0" fill="#595959" text-anchor="end" textLength="7.63" lengthAdjust="spacingAndGlyphs">14.5</text>
<text x="399.40" y="317.83" font-size="4.0" fill="#595959" text-anchor="end" textLength="7.63" lengthAdjust="spacingAndGlyphs">13.5</text>
<text x="399.40" y="328.54" font-size="4.0" fill="#595959" text-anchor="end" textLength="7.63" lengthAdjust="spacingAndGlyphs">12.5</text>
<text x="399.40" y="339.25" font-size="4.0" fill="#595959" text-anchor="end" textLength="7.34" lengthAdjust="spacingAndGlyphs">11.5</text>
<text x="399.40" y="349.96" font-size="4.0" fill="#595959" text-anchor="end" textLength="7.63" lengthAdjust="spacingAndGlyphs">10.5</text>
<text x="399.40" y="360.67" font-size="4.0" fill="#595959" text-anchor="end" textLength="5.45" lengthAdjust="spacingAndGlyphs">9.5</text>
<text x="407.70" y="371.00" font-size="4.0" fill="#595959" textLength="8.90" lengthAdjust="spacingAndGlyphs" transform="rotate(-90 407.70 371.0)">2002</text>
<text x="413.53" y="371.00" font-size="4.0" fill="#595959" textLength="8.90" lengthAdjust="spacingAndGlyphs" transform="rotate(-90 413.53 371.0)">2003</text>
<text x="419.36" y="371.00" font-size="4.0" fill="#595959" textLength="8.90" lengthAdjust="spacingAndGlyphs" transform="rotate(-90 419.36 371.0)">2004</text>
<text x="425.19" y="371.00" font-size="4.0" fill="#595959" textLength="8.90" lengthAdjust="spacingAndGlyphs" transform="rotate(-90 425.19 371.0)">2005</text>
<text x="431.02" y="371.00" font-size="4.0" fill="#595959" textLength="8.90" lengthAdjust="spacingAndGlyphs" transform="rotate(-90 431.02 371.0)">2006</text>
<text x="436.85" y="371.00" font-size="4.0" fill="#595959" textLength="8.90" lengthAdjust="spacingAndGlyphs" transform="rotate(-90 436.85 371.0)">2007</text>
<text x="442.68" y="371.00" font-size="4.0" fill="#595959" textLength="8.90" lengthAdjust="spacingAndGlyphs" transform="rotate(-90 442.68 371.0)">2008</text>
<text x="448.51" y="371.00" font-size="4.0" fill="#595959" textLength="8.90" lengthAdjust="spacingAndGlyphs" transform="rotate(-90 448.51 371.0)">2009</text>
<text x="454.34" y="371.00" font-size="4.0" fill="#595959" textLength="8.90" lengthAdjust="spacingAndGlyphs" transform="rotate(-90 454.34 371.0)">2010</text>
<text x="460.17" y="371.00" font-size="4.0" fill="#595959" textLength="8.60" lengthAdjust="spacingAndGlyphs" transform="rotate(-90 460.17 371.0)">2011</text>
<text x="466.00" y="371.00" font-size="4.0" fill="#595959" textLength="8.90" lengthAdjust="spacingAndGlyphs" transform="rotate(-90 466.00 371.0)">2012</text>
<text x="471.83" y="371.00" font-size="4.0" fill="#595959" textLength="8.90" lengthAdjust="spacingAndGlyphs" transform="rotate(-90 471.83 371.0)">2013</text>
<text x="477.66" y="371.00" font-size="4.0" fill="#595959" textLength="8.90" lengthAdjust="spacingAndGlyphs" transform="rotate(-90 477.66 371.0)">2014</text>
<text x="483.49" y="371.00" font-size="4.0" fill="#595959" textLength="8.90" lengthAdjust="spacingAndGlyphs" transform="rotate(-90 483.49 371.0)">2015</text>
<text x="489.32" y="371.00" font-size="4.0" fill="#595959" textLength="8.90" lengthAdjust="spacingAndGlyphs" transform="rotate(-90 489.32 371.0)">2016</text>
<text x="495.15" y="371.00" font-size="4.0" fill="#595959" textLength="8.90" lengthAdjust="spacingAndGlyphs" transform="rotate(-90 495.15 371.0)">2017</text>
<text x="500.98" y="371.00" font-size="4.0" fill="#595959" textLength="8.90" lengthAdjust="spacingAndGlyphs" transform="rotate(-90 500.98 371.0)">2018</text>
<text x="506.81" y="371.00" font-size="4.0" fill="#595959" textLength="8.90" lengthAdjust="spacingAndGlyphs" transform="rotate(-90 506.81 371.0)">2019</text>
<text x="388.30" y="321.80" font-size="4.6" fill="#595959" text-anchor="middle" textLength="11.58" lengthAdjust="spacingAndGlyphs" transform="rotate(-90 388.3 321.8)">Years</text>
<text x="383.00" y="383.40" font-size="4.6" fill="#404040" textLength="80.60" lengthAdjust="spacingAndGlyphs">Source: MSCI, Retail Economics analysis</text>
<text x="550.50" y="217.40" font-size="4.0" fill="#595959" text-anchor="end" textLength="2.18" lengthAdjust="spacingAndGlyphs">0</text>
<text x="550.50" y="207.72" font-size="4.0" fill="#595959" text-anchor="end" textLength="2.18" lengthAdjust="spacingAndGlyphs">5</text>
<text x="550.50" y="198.05" font-size="4.0" fill="#595959" text-anchor="end" textLength="4.36" lengthAdjust="spacingAndGlyphs">10</text>
<text x="550.50" y="188.38" font-size="4.0" fill="#595959" text-anchor="end" textLength="4.36" lengthAdjust="spacingAndGlyphs">15</text>
<text x="550.50" y="178.70" font-size="4.0" fill="#595959" text-anchor="end" textLength="4.36" lengthAdjust="spacingAndGlyphs">20</text>
<text x="550.50" y="169.03" font-size="4.0" fill="#595959" text-anchor="end" textLength="4.36" lengthAdjust="spacingAndGlyphs">25</text>
<text x="550.50" y="159.35" font-size="4.0" fill="#595959" text-anchor="end" textLength="4.36" lengthAdjust="spacingAndGlyphs">30</text>
<text x="550.50" y="149.67" font-size="4.0" fill="#595959" text-anchor="end" textLength="4.36" lengthAdjust="spacingAndGlyphs">35</text>
<text x="550.50" y="140.00" font-size="4.0" fill="#595959" text-anchor="end" textLength="4.36" lengthAdjust="spacingAndGlyphs">40</text>
<text x="560.15" y="228.00" font-size="4.0" fill="#595959" textLength="8.90" lengthAdjust="spacingAndGlyphs" transform="rotate(-90 560.15 228.0)">2005</text>
<text x="567.25" y="228.00" font-size="4.0" fill="#595959" textLength="8.90" lengthAdjust="spacingAndGlyphs" transform="rotate(-90 567.25 228.0)">2006</text>
<text x="574.35" y="228.00" font-size="4.0" fill="#595959" textLength="8.90" lengthAdjust="spacingAndGlyphs" transform="rotate(-90 574.35 228.0)">2007</text>
<text x="581.45" y="228.00" font-size="4.0" fill="#595959" textLength="8.90" lengthAdjust="spacingAndGlyphs" transform="rotate(-90 581.45 228.0)">2008</text>
<text x="588.55" y="228.00" font-size="4.0" fill="#595959" textLength="8.90" lengthAdjust="spacingAndGlyphs" transform="rotate(-90 588.55 228.0)">2009</text>
<text x="595.65" y="228.00" font-size="4.0" fill="#595959" textLength="8.90" lengthAdjust="spacingAndGlyphs" transform="rotate(-90 595.65 228.0)">2010</text>
<text x="602.75" y="228.00" font-size="4.0" fill="#595959" textLength="8.60" lengthAdjust="spacingAndGlyphs" transform="rotate(-90 602.75 228.0)">2011</text>
<text x="609.85" y="228.00" font-size="4.0" fill="#595959" textLength="8.90" lengthAdjust="spacingAndGlyphs" transform="rotate(-90 609.85 228.0)">2012</text>
<text x="616.95" y="228.00" font-size="4.0" fill="#595959" textLength="8.90" lengthAdjust="spacingAndGlyphs" transform="rotate(-90 616.95 228.0)">2013</text>
<text x="624.05" y="228.00" font-size="4.0" fill="#595959" textLength="8.90" lengthAdjust="spacingAndGlyphs" transform="rotate(-90 624.05 228.0)">2014</text>
<text x="631.15" y="228.00" font-size="4.0" fill="#595959" textLength="8.90" lengthAdjust="spacingAndGlyphs" transform="rotate(-90 631.15 228.0)">2015</text>
<text x="638.25" y="228.00" font-size="4.0" fill="#595959" textLength="8.90" lengthAdjust="spacingAndGlyphs" transform="rotate(-90 638.25 228.0)">2016</text>
<text x="645.35" y="228.00" font-size="4.0" fill="#595959" textLength="8.90" lengthAdjust="spacingAndGlyphs" transform="rotate(-90 645.35 228.0)">2017</text>
<text x="652.45" y="228.00" font-size="4.0" fill="#595959" textLength="8.90" lengthAdjust="spacingAndGlyphs" transform="rotate(-90 652.45 228.0)">2018</text>
<text x="659.55" y="228.00" font-size="4.0" fill="#595959" textLength="8.90" lengthAdjust="spacingAndGlyphs" transform="rotate(-90 659.55 228.0)">2019</text>
<text x="543.00" y="177.00" font-size="4.6" fill="#595959" text-anchor="middle" textLength="23.50" lengthAdjust="spacingAndGlyphs" transform="rotate(-90 543.0 177.0)">Percentage</text>
<text x="541.00" y="242.10" font-size="4.6" fill="#404040" textLength="72.90" lengthAdjust="spacingAndGlyphs">Source: MSCI, Retail Economics analysis</text>
<text x="564.00" y="368.00" font-size="4.0" fill="#595959" text-anchor="end" textLength="2.18" lengthAdjust="spacingAndGlyphs">0</text>
<text x="564.00" y="378.43" font-size="4.0" fill="#595959" text-anchor="end" textLength="7.85" lengthAdjust="spacingAndGlyphs">-100</text>
<text x="564.00" y="388.86" font-size="4.0" fill="#595959" text-anchor="end" textLength="7.85" lengthAdjust="spacingAndGlyphs">-200</text>
<text x="564.00" y="399.29" font-size="4.0" fill="#595959" text-anchor="end" textLength="7.85" lengthAdjust="spacingAndGlyphs">-300</text>
<text x="564.00" y="409.72" font-size="4.0" fill="#595959" text-anchor="end" textLength="7.85" lengthAdjust="spacingAndGlyphs">-400</text>
<text x="564.00" y="420.15" font-size="4.0" fill="#595959" text-anchor="end" textLength="7.85" lengthAdjust="spacingAndGlyphs">-500</text>
<text x="564.00" y="430.58" font-size="4.0" fill="#595959" text-anchor="end" textLength="7.85" lengthAdjust="spacingAndGlyphs">-600</text>
<text x="564.00" y="441.01" font-size="4.0" fill="#595959" text-anchor="end" textLength="7.85" lengthAdjust="spacingAndGlyphs">-700</text>
<text x="583.50" y="362.60" font-size="4.2" fill="#595959" text-anchor="middle" textLength="9.13" lengthAdjust="spacingAndGlyphs">2016</text>
<text x="614.90" y="362.60" font-size="4.2" fill="#595959" text-anchor="middle" textLength="9.13" lengthAdjust="spacingAndGlyphs">2017</text>
<text x="645.90" y="362.60" font-size="4.2" fill="#595959" text-anchor="middle" textLength="9.13" lengthAdjust="spacingAndGlyphs">2018</text>
<text x="583.50" y="375.06" font-size="4.0" fill="#595959" text-anchor="middle" textLength="7.85" lengthAdjust="spacingAndGlyphs">-131</text>
<text x="614.90" y="376.08" font-size="4.0" fill="#595959" text-anchor="middle" textLength="7.85" lengthAdjust="spacingAndGlyphs">-136</text>
<text x="646.20" y="370.35" font-size="4.0" fill="#595959" text-anchor="middle" textLength="5.67" lengthAdjust="spacingAndGlyphs">-82</text>
<text x="583.50" y="391.84" font-size="4.0" fill="#4472c4" text-anchor="middle" textLength="7.85" lengthAdjust="spacingAndGlyphs">-150</text>
<text x="614.90" y="400.20" font-size="4.0" fill="#4472c4" text-anchor="middle" textLength="7.85" lengthAdjust="spacingAndGlyphs">-233</text>
<text x="646.50" y="383.62" font-size="4.0" fill="#4472c4" text-anchor="middle" textLength="5.67" lengthAdjust="spacingAndGlyphs">-74</text>
<text x="583.50" y="444.04" font-size="4.0" fill="#ed7d31" text-anchor="middle" textLength="7.85" lengthAdjust="spacingAndGlyphs">-656</text>
<text x="614.90" y="418.04" font-size="4.0" fill="#ed7d31" text-anchor="middle" textLength="7.85" lengthAdjust="spacingAndGlyphs">-404</text>
<text x="646.40" y="425.25" font-size="4.0" fill="#ed7d31" text-anchor="middle" textLength="7.85" lengthAdjust="spacingAndGlyphs">-479</text>
<text x="571.00" y="452.40" font-size="4.0" fill="#595959" textLength="26.70" lengthAdjust="spacingAndGlyphs">Value retailers</text>
<text x="619.50" y="452.40" font-size="4.0" fill="#595959" textLength="25.70" lengthAdjust="spacingAndGlyphs">Mass retailers</text>
<text x="571.00" y="462.30" font-size="4.0" fill="#595959" textLength="33.00" lengthAdjust="spacingAndGlyphs">Premium retailers</text>
<text x="543.80" y="410.50" font-size="4.4" fill="#595959" text-anchor="middle" textLength="41.00" lengthAdjust="spacingAndGlyphs" transform="rotate(-90 543.8 410.5)">Number of net stores</text>
<text x="539.00" y="472.70" font-size="5.0" fill="#404040" textLength="27.19" lengthAdjust="spacingAndGlyphs">Source: LDC</text>
<text x="9.50" y="496.20" font-size="5.6" fill="#eef3f9" textLength="126.80" lengthAdjust="spacingAndGlyphs">Consumer Series Report: What’s happening to retail property?</text>
<text x="283.90" y="496.20" font-size="5.6" fill="#eef3f9" textLength="34.10" lengthAdjust="spacingAndGlyphs">Retail Economics</text>
<text x="340.60" y="496.20" font-size="5.6" fill="#eef3f9" textLength="2.20" lengthAdjust="spacingAndGlyphs">8</text>
<text x="360.00" y="496.20" font-size="5.6" fill="#eef3f9" textLength="126.00" lengthAdjust="spacingAndGlyphs">Consumer Series Report: What’s happening to retail property?</text>
<text x="633.90" y="496.20" font-size="5.6" fill="#eef3f9" textLength="34.10" lengthAdjust="spacingAndGlyphs">Retail Economics</text>
<text x="690.60" y="496.20" font-size="5.6" fill="#eef3f9" textLength="2.50" lengthAdjust="spacingAndGlyphs">9</text>
<polyline fill="none" stroke="#2a5fb8" stroke-width="0.8" points="406.30,304.65 412.13,310.00 417.96,296.08 423.79,320.71 429.62,333.57 435.45,335.71 441.28,336.78 447.11,347.49 452.94,336.78 458.77,342.13 464.60,341.06 470.43,342.13 476.26,346.42 482.09,343.21 487.92,352.84 493.75,346.42 499.58,347.49 505.41,354.99"/>
<circle cx="406.30" cy="304.65" r="2.0" fill="#1f55ad"/>
<circle cx="412.13" cy="310.00" r="2.0" fill="#1f55ad"/>
<circle cx="417.96" cy="296.08" r="2.0" fill="#1f55ad"/>
<circle cx="423.79" cy="320.71" r="2.0" fill="#1f55ad"/>
<circle cx="429.62" cy="333.57" r="2.0" fill="#1f55ad"/>
<circle cx="435.45" cy="335.71" r="2.0" fill="#1f55ad"/>
<circle cx="441.28" cy="336.78" r="2.0" fill="#1f55ad"/>
<circle cx="447.11" cy="347.49" r="2.0" fill="#1f55ad"/>
<circle cx="452.94" cy="336.78" r="2.0" fill="#1f55ad"/>
<circle cx="458.77" cy="342.13" r="2.0" fill="#1f55ad"/>
<circle cx="464.60" cy="341.06" r="2.0" fill="#1f55ad"/>
<circle cx="470.43" cy="342.13" r="2.0" fill="#1f55ad"/>
<circle cx="476.26" cy="346.42" r="2.0" fill="#1f55ad"/>
<circle cx="482.09" cy="343.21" r="2.0" fill="#1f55ad"/>
<circle cx="487.92" cy="352.84" r="2.0" fill="#1f55ad"/>
<circle cx="493.75" cy="346.42" r="2.0" fill="#1f55ad"/>
<circle cx="499.58" cy="347.49" r="2.0" fill="#1f55ad"/>
<circle cx="505.41" cy="354.99" r="2.0" fill="#1f55ad"/>
<path d="M572.95,169.37 C574.13,168.93 577.68,166.79 580.05,166.72 C582.42,166.66 584.78,168.80 587.15,168.98 C589.52,169.16 591.88,167.74 594.25,167.82 C596.62,167.89 598.98,170.04 601.35,169.43 C603.72,168.82 606.08,165.67 608.45,164.14 C610.82,162.62 613.18,161.62 615.55,160.27 C617.92,158.93 620.28,156.95 622.65,156.08 C625.02,155.21 627.38,155.20 629.75,155.05 C632.12,154.90 634.48,155.34 636.85,155.18 C639.22,155.02 641.58,154.27 643.95,154.08 C646.32,153.89 648.68,153.81 651.05,154.02 C653.42,154.22 656.97,155.09 658.15,155.31" fill="none" stroke="#ed7d31" stroke-width="1.2"/>
<polyline fill="none" stroke="#a5a5a5" stroke-width="0.9" points="583.50,380.26 614.90,380.78 645.90,375.15"/>
<polyline fill="none" stroke="#4472c4" stroke-width="0.9" points="583.50,382.25 614.90,390.90 645.90,374.32"/>
<polyline fill="none" stroke="#ed7d31" stroke-width="0.9" points="583.50,435.44 614.90,408.74 645.90,416.25"/>
<line x1="557.2" y1="451.0" x2="569.7" y2="451.0" stroke="#4472c4" stroke-width="0.9"/>
<line x1="605.7" y1="451.0" x2="618.6" y2="451.0" stroke="#ed7d31" stroke-width="0.9"/>
<line x1="557.2" y1="460.9" x2="569.7" y2="460.9" stroke="#a5a5a5" stroke-width="0.9"/>
</svg>
</body></html>
